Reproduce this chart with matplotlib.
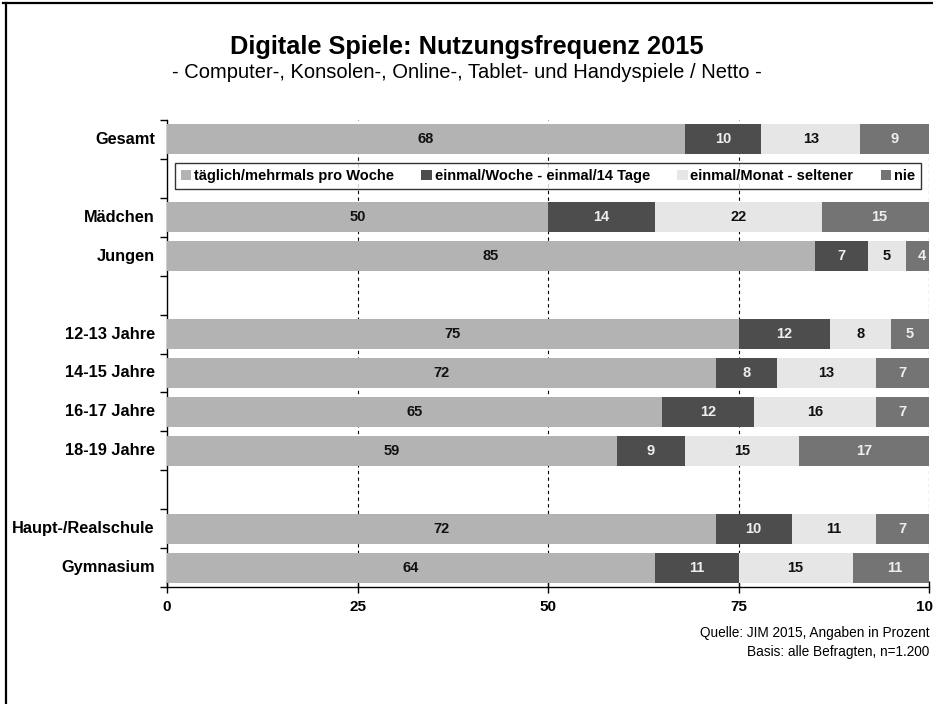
import matplotlib
matplotlib.use("Agg")
import matplotlib.pyplot as plt
from matplotlib.lines import Line2D
import numpy as np

categories = ["Gesamt", "Mädchen", "Jungen", "12-13 Jahre", "14-15 Jahre",
              "16-17 Jahre", "18-19 Jahre", "Haupt-/Realschule", "Gymnasium"]
slots = [0, 2, 3, 5, 6, 7, 8, 10, 11]
series_names = ["täglich/mehrmals pro Woche", "einmal/Woche - einmal/14 Tage",
                "einmal/Monat - seltener", "nie"]
taeglich = [68, 50, 85, 75, 72, 65, 59, 72, 64]
woechentlich = [10, 14, 7, 12, 8, 12, 9, 10, 11]
monatlich = [13, 22, 5, 8, 13, 16, 15, 11, 15]
nie = [9, 15, 4, 5, 7, 7, 17, 7, 11]
xticks = [0, 25, 50, 75, 100]
xticklabels = ["0", "25", "50", "75", "100"]

colors = ["#b3b3b3", "#4d4d4d", "#e6e6e6", "#747474"]
text_colors = ["#111111", "#eeeeee", "#111111", "#eeeeee"]

NARROW = ["Liberation Sans Narrow", "Liberation Sans", "DejaVu Sans"]
ARIAL = ["Liberation Sans", "DejaVu Sans"]

fig = plt.figure(figsize=(9.33, 7.04), dpi=100)
ax = fig.add_axes([167/933, 1-587/704, (929-167)/933, (587-120)/704])

series = [taeglich, woechentlich, monatlich, nie]
left = np.zeros(len(categories))
handles = []
for vals, col, tc, name in zip(series, colors, text_colors, series_names):
    vals = np.array(vals, dtype=float)
    b = ax.barh(slots, vals, left=left, height=0.77, color=col, zorder=3, label=name)
    handles.append(b)
    for y, l, v in zip(slots, left, vals):
        ax.text(l + v/2, y, f"{int(v)}", ha="center", va="center", color=tc,
                fontsize=10.5, fontweight="bold", family=ARIAL, zorder=4)
    left += vals

ax.set_xlim(0, 100)
ax.set_ylim(11.5, -0.5)
ax.set_yticks(np.arange(-0.5, 12, 1))
ax.set_yticklabels([])
ax.tick_params(axis="y", direction="out", length=5, width=1)
ax.set_xticks(xticks)
ax.set_xticklabels(xticklabels, fontsize=11, fontweight="bold", family=NARROW)
ax.tick_params(axis="x", direction="inout", length=9, width=1, pad=5)
for lab in ax.get_xticklabels():
    lab.set_clip_on(False)

for x in [25, 50, 75, 100]:
    ax.axvline(x, color="black", lw=0.8, ls=(0, (3, 3)), zorder=1)

ax.spines["top"].set_visible(False)
ax.spines["right"].set_visible(False)
ax.spines["left"].set_linewidth(1)
ax.spines["bottom"].set_linewidth(1)

for cat, y in zip(categories, slots):
    ax.text(-0.016, y, cat, transform=ax.get_yaxis_transform(), ha="right",
            va="center", fontsize=11.8, fontweight="bold", family=ARIAL)

ly = (587-176)/467
lh = 30/467
leg = ax.legend(handles=handles, loc="center", ncol=4, mode="expand",
                bbox_to_anchor=(8/762, ly - lh/2, 746/762, lh),
                frameon=True, fancybox=False, edgecolor="black",
                handlelength=0.7, handleheight=0.7, handletextpad=0.2,
                columnspacing=1.35, borderpad=0.4, borderaxespad=0,
                prop={"family": ARIAL, "weight": "bold", "size": 10.5})
leg.get_frame().set_linewidth(1)
leg.set_zorder(5)

fig.text(0.5, 1-47/704, "Digitale Spiele: Nutzungsfrequenz 2015", ha="center",
         va="center", fontsize=18.3, fontweight="bold", family=NARROW)
fig.text(0.5, 1-73/704, "- Computer-, Konsolen-, Online-, Tablet- und Handyspiele / Netto -",
         ha="center", va="center", fontsize=14.5, family=NARROW)
fig.text(929/933, 1-633/704, "Quelle: JIM 2015, Angaben in Prozent", ha="right",
         va="center", fontsize=9.8, family=NARROW)
fig.text(929/933, 1-652/704, "Basis: alle Befragten, n=1.200", ha="right",
         va="center", fontsize=9.8, family=NARROW)

fig.add_artist(Line2D([3/933, 1], [1-3/704, 1-3/704], color="black", lw=1.6))
fig.add_artist(Line2D([6/933, 6/933], [0, 1-3/704], color="black", lw=1.6))

fig.savefig("out.png", dpi=100)
